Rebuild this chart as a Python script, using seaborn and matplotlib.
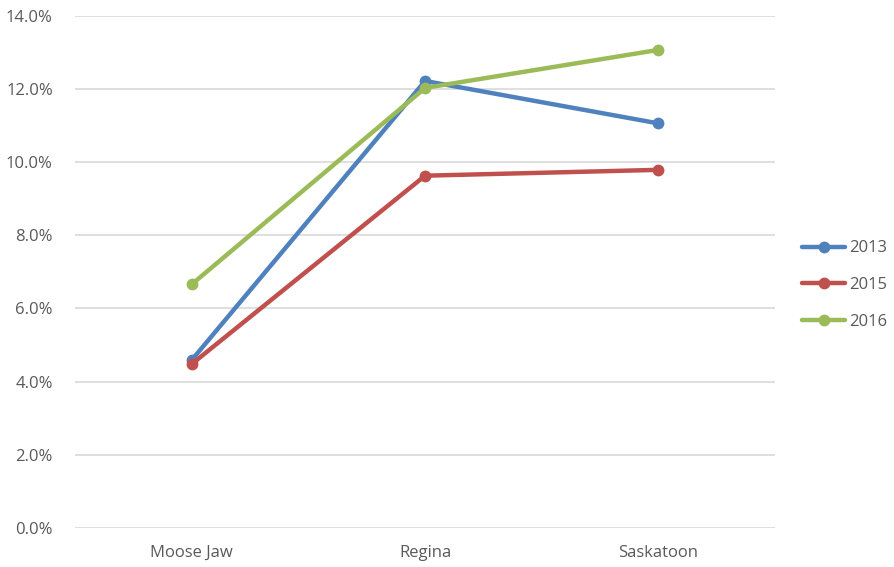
import matplotlib
matplotlib.use("Agg")
import matplotlib.pyplot as plt
import seaborn as sns
import pandas as pd
from matplotlib.ticker import PercentFormatter

cities = ["Moose Jaw", "Regina", "Saskatoon"]
years = ["2013", "2015", "2016"]
rate_2013 = [4.59, 12.22, 11.06]
rate_2015 = [4.48, 9.63, 9.79]
rate_2016 = [6.66, 12.03, 13.07]
y_ticks = [0, 2, 4, 6, 8, 10, 12, 14]

rows = []
for year, vals in zip(years, [rate_2013, rate_2015, rate_2016]):
    for city, v in zip(cities, vals):
        rows.append({"City": city, "Year": year, "Rate": v})
df = pd.DataFrame(rows)

sns.set_style("white")
plt.rcParams["font.family"] = ["Open Sans", "DejaVu Sans"]
text_color = "#595959"

palette = {"2013": "#4F81BD", "2015": "#C0504D", "2016": "#9BBB59"}

fig = plt.figure(figsize=(8.94, 5.67), dpi=100)
ax = fig.add_axes([0.084, 0.069, 0.783, 0.903])

sns.lineplot(data=df, x="City", y="Rate", hue="Year", palette=palette,
             marker="o", markersize=8.5, markeredgewidth=0, linewidth=3.2,
             sort=False, ax=ax, zorder=3)

ax.set_xlim(-0.5, 2.5)
ax.set_ylim(0, 14)
ax.set_yticks(y_ticks)
ax.yaxis.set_major_formatter(PercentFormatter(decimals=1))
ax.grid(axis="y", color="#D9D9D9", linewidth=1.2, zorder=0)
ax.grid(axis="x", visible=False)
for s in ax.spines.values():
    s.set_visible(False)
ax.set_xlabel("")
ax.set_ylabel("")
ax.tick_params(axis="both", length=0, labelsize=12, colors=text_color)
ax.tick_params(axis="x", pad=12)
ax.tick_params(axis="y", pad=16)

handles, labels = ax.get_legend_handles_labels()
ax.get_legend().remove()
leg = fig.legend(handles, labels, loc="center left", bbox_to_anchor=(0.897, 0.497),
                 frameon=False, fontsize=12, handlelength=2.6, labelspacing=1.25,
                 handletextpad=0.25, borderaxespad=0, borderpad=0)
for t in leg.get_texts():
    t.set_color(text_color)

fig.savefig("out.png", dpi=100)
